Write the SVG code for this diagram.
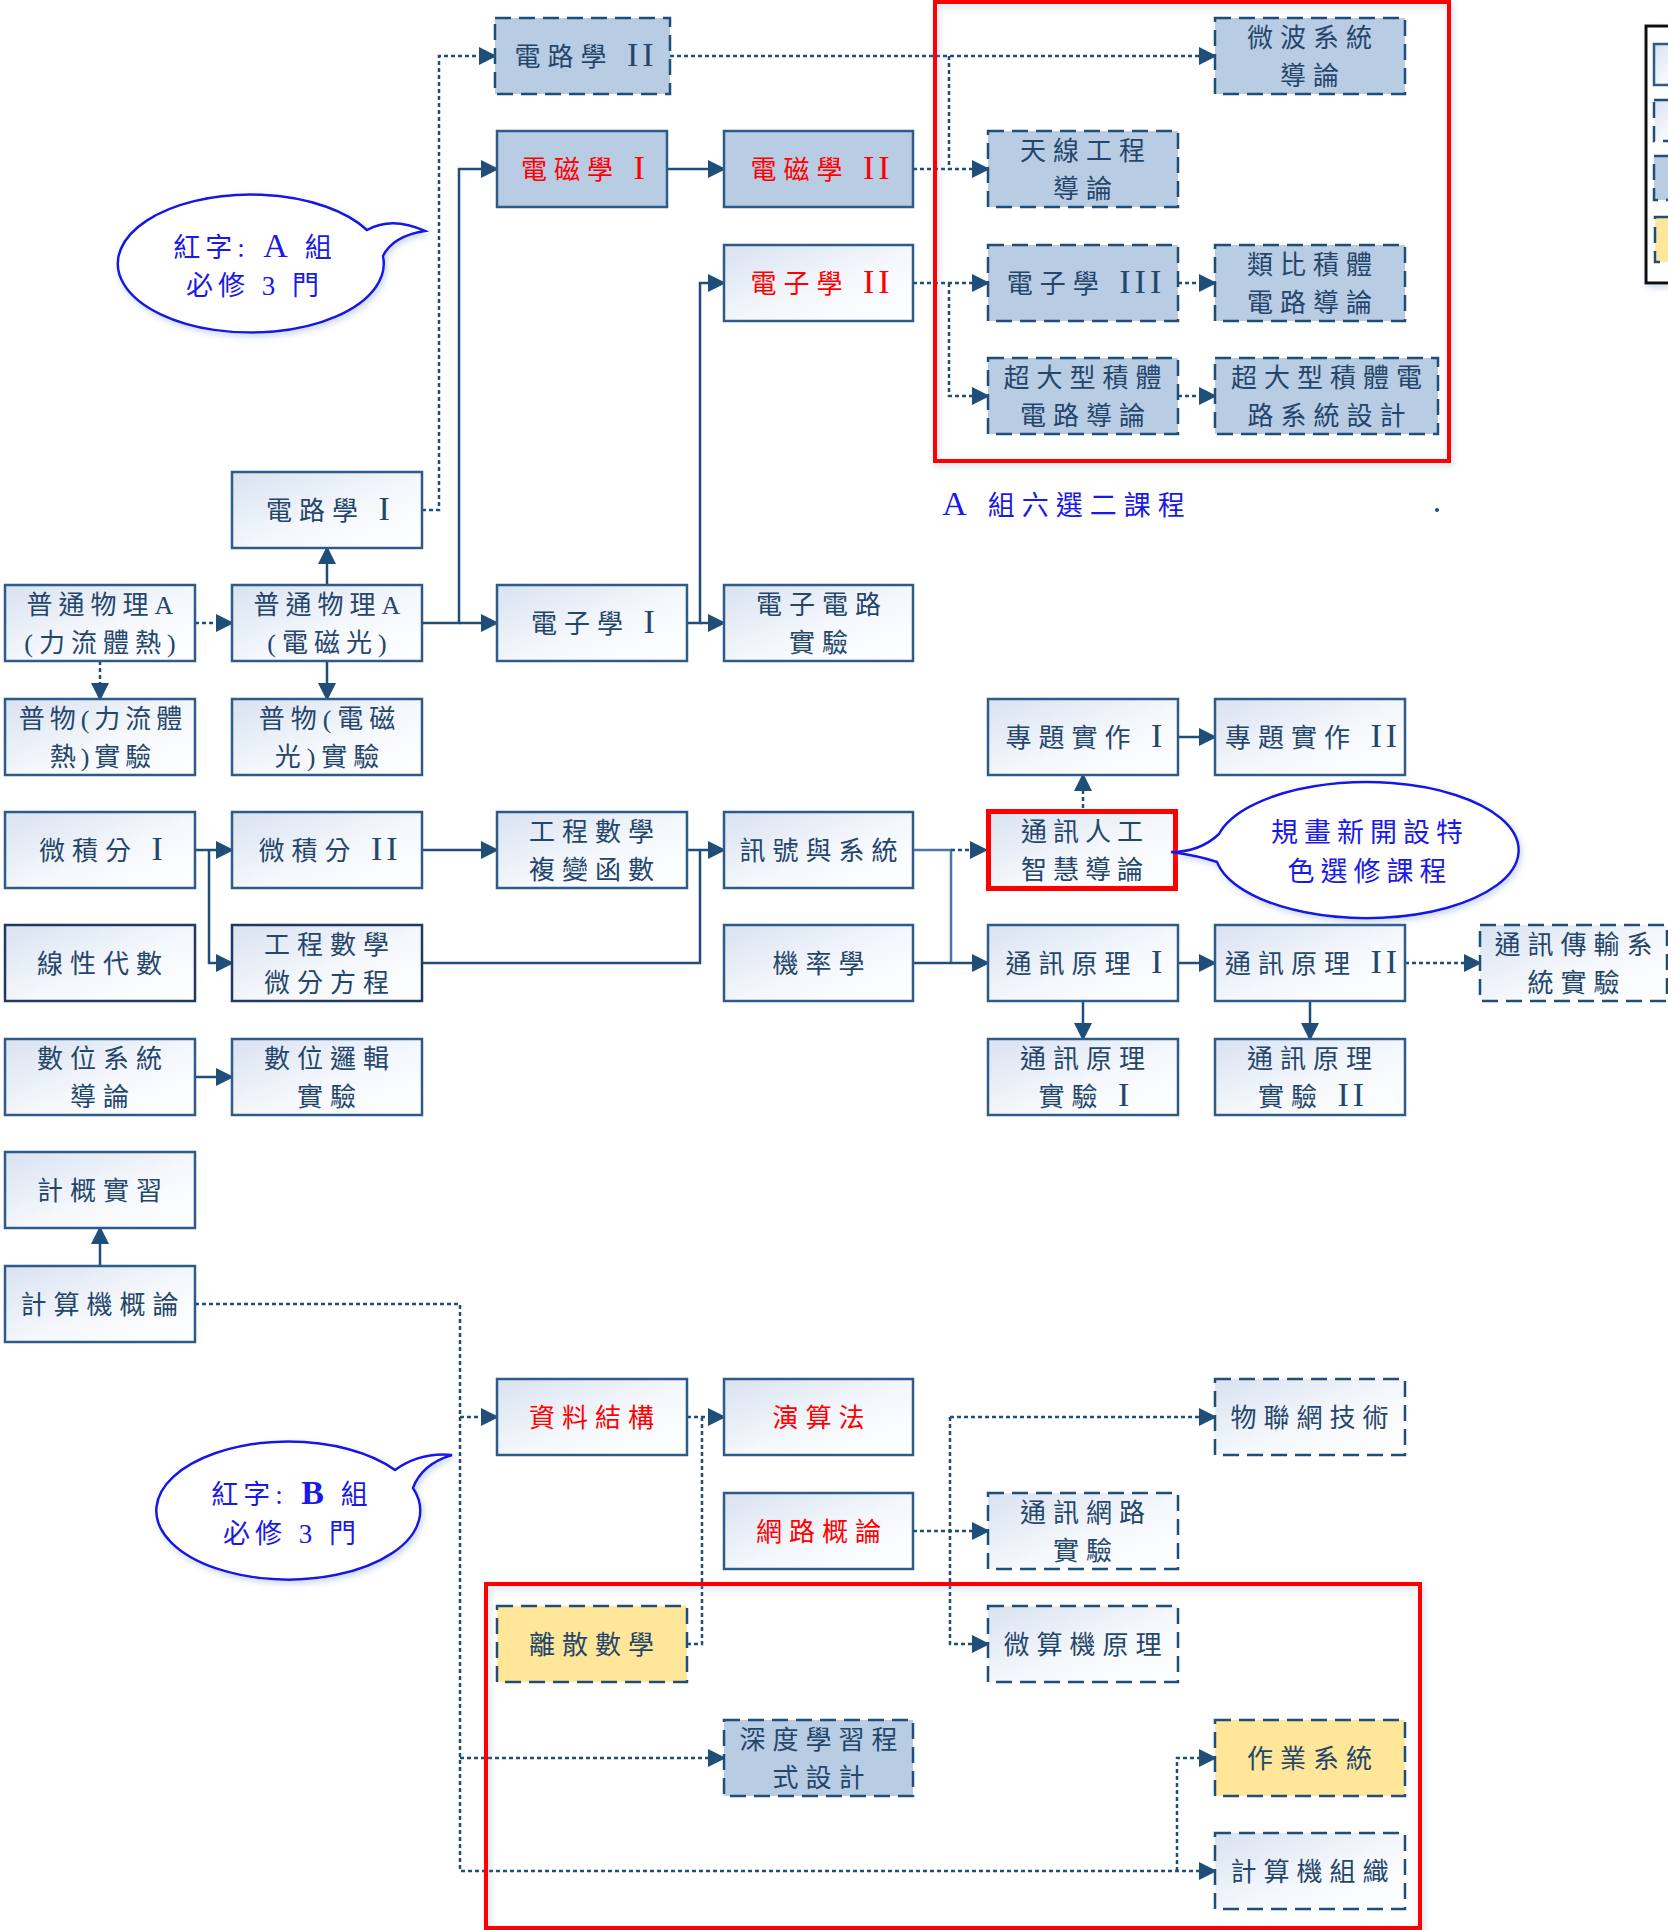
<svg xmlns="http://www.w3.org/2000/svg" width="1668" height="1930" viewBox="0 0 1668 1930">
<defs>
<linearGradient id="gl" x1="0" y1="0" x2="1" y2="1">
<stop offset="0" stop-color="#d9e2f1"/>
<stop offset="0.55" stop-color="#f5f8fc"/>
<stop offset="1" stop-color="#ffffff"/>
</linearGradient>
<marker id="ah" markerUnits="userSpaceOnUse" markerWidth="18" markerHeight="18" refX="16" refY="9" orient="auto" viewBox="0 0 18 18">
<path d="M0,0 L18,9 L0,18 z" fill="#1f4e79"/>
</marker>
<filter id="sh" x="-10%" y="-10%" width="125%" height="130%">
<feDropShadow dx="2" dy="3" stdDeviation="3" flood-color="#8fa9d6" flood-opacity="0.45"/>
</filter>
<style>
.sl{fill:url(#gl);stroke:#2e5b88;stroke-width:2.5}
.sb{fill:#b8cce4;stroke:#2e5b88;stroke-width:2.5}
.dk{fill:url(#gl);stroke:#1f3864;stroke-width:2.5}
.db{fill:#b8cce4;stroke:#1f4e79;stroke-width:2.5;stroke-dasharray:16 8}
.dl{fill:url(#gl);stroke:#1f4e79;stroke-width:2.5;stroke-dasharray:16 8}
.dy{fill:#ffe699;stroke:#1f4e79;stroke-width:2.5;stroke-dasharray:16 8}
.t{font-family:"Liberation Serif","Noto Sans CJK TC",serif;font-size:26px;fill:#25466b;letter-spacing:7px;text-anchor:middle}
.r{fill:#ff0000}
.rn{font-size:34px;letter-spacing:4px}
.bt{font-family:"Liberation Serif","Noto Sans CJK TC",serif;font-size:27px;fill:#1a1ae6;letter-spacing:5px;text-anchor:middle}
.ba{font-size:34px}
.bub{fill:#ffffff;stroke:#1414e6;stroke-width:2.5}
.s{fill:none;stroke:#1f4e79;stroke-width:2.5}
.d{fill:none;stroke:#1f4e79;stroke-width:2.5;stroke-dasharray:4 3}
.redbox{fill:none;stroke:#ff0000;stroke-width:4}
</style>
</defs>
<rect x="0" y="0" width="1668" height="1930" fill="#ffffff"/>

<g id="connectors">
<path class="s" d="M422,623 H459 V169 H497" marker-end="url(#ah)"/>
<path class="s" d="M459,623 H497" marker-end="url(#ah)"/>
<path class="s" d="M327,585 V548" marker-end="url(#ah)"/>
<path class="s" d="M327,661 V699" marker-end="url(#ah)"/>
<path class="s" d="M667,169 H724" marker-end="url(#ah)"/>
<path class="s" d="M687,623 H700 V283 H724" marker-end="url(#ah)"/>
<path class="s" d="M700,623 H724" marker-end="url(#ah)"/>
<path class="s" d="M195,850 H232" marker-end="url(#ah)"/>
<path class="s" d="M209,850 V963 H232" marker-end="url(#ah)"/>
<path class="s" d="M422,850 H497" marker-end="url(#ah)"/>
<path class="s" d="M687,850 H724" marker-end="url(#ah)"/>
<path class="s" d="M422,963 H700 V850"/>
<path class="s" d="M913,850 H951 V963" style="stroke:#4a76a8"/>
<path class="s" d="M913,963 H988" marker-end="url(#ah)"/>
<path class="s" d="M1178,737 H1215" marker-end="url(#ah)"/>
<path class="s" d="M1178,963 H1215" marker-end="url(#ah)"/>
<path class="s" d="M1083,1001 V1039" marker-end="url(#ah)"/>
<path class="s" d="M1310,1001 V1039" marker-end="url(#ah)"/>
<path class="s" d="M195,1077 H232" marker-end="url(#ah)"/>
<path class="s" d="M100,1266 V1228" marker-end="url(#ah)"/>
<path class="d" d="M422,510 H439 V56 H495" marker-end="url(#ah)"/>
<path class="d" d="M670,56 H1215" marker-end="url(#ah)"/>
<path class="d" d="M949,56 V169 H988" marker-end="url(#ah)"/>
<path class="d" d="M913,169 H949"/>
<path class="d" d="M913,283 H988" marker-end="url(#ah)"/>
<path class="d" d="M949,283 V396 H988" marker-end="url(#ah)"/>
<path class="d" d="M1178,283 H1215" marker-end="url(#ah)"/>
<path class="d" d="M1178,396 H1215" marker-end="url(#ah)"/>
<path class="d" d="M195,623 H232" marker-end="url(#ah)"/>
<path class="d" d="M100,661 V699" marker-end="url(#ah)"/>
<path class="d" d="M951,850 H986" marker-end="url(#ah)"/>
<path class="d" d="M1083,808 V775" marker-end="url(#ah)"/>
<path class="d" d="M1405,963 H1480" marker-end="url(#ah)"/>
<path class="d" d="M195,1304 H460 V1871 H1215" marker-end="url(#ah)"/>
<path class="d" d="M460,1417 H497" marker-end="url(#ah)"/>
<path class="d" d="M460,1758 H724" marker-end="url(#ah)"/>
<path class="d" d="M1177,1871 V1758 H1215" marker-end="url(#ah)"/>
<path class="d" d="M687,1417 H724" marker-end="url(#ah)"/>
<path class="d" d="M687,1644 H702 V1417"/>
<path class="d" d="M913,1531 H988" marker-end="url(#ah)"/>
<path class="d" d="M950,1417 V1644 H988" marker-end="url(#ah)"/>
<path class="d" d="M950,1417 H1215" marker-end="url(#ah)"/>
</g>

<g id="group-a-frame">
<rect class="redbox" x="935" y="2" width="514" height="459" filter="url(#sh)"/>
<text class="bt" x="1067" y="515" style="letter-spacing:7px"><tspan class="ba">A</tspan> 組六選二課程</text>
<circle cx="1437" cy="510" r="2" fill="#1f4e79"/>
</g>
<g id="group-b-frame">
<rect class="redbox" x="486" y="1584" width="934" height="344" filter="url(#sh)"/>
</g>

<g id="n-circuit2"><rect class="db" x="495" y="18" width="175" height="76"/><text class="t" x="586" y="66">電路學 <tspan class="rn">II</tspan></text></g>
<g id="n-em1"><rect class="sb" x="497" y="131" width="170" height="76"/><text class="t r" x="585" y="179">電磁學 <tspan class="rn">I</tspan></text></g>
<g id="n-em2"><rect class="sb" x="724" y="131" width="189" height="76"/><text class="t r" x="822" y="179">電磁學 <tspan class="rn">II</tspan></text></g>
<g id="n-elec2"><rect class="sl" x="724" y="245" width="189" height="76"/><text class="t r" x="822" y="293">電子學 <tspan class="rn">II</tspan></text></g>
<g id="n-microwave"><rect class="db" x="1215" y="18" width="190" height="76"/><text class="t" x="1313" y="47">微波系統</text><text class="t" x="1313" y="85">導論</text></g>
<g id="n-antenna"><rect class="db" x="988" y="131" width="190" height="76"/><text class="t" x="1086" y="160">天線工程</text><text class="t" x="1086" y="198">導論</text></g>
<g id="n-elec3"><rect class="db" x="988" y="245" width="190" height="76"/><text class="t" x="1086" y="293">電子學 <tspan class="rn">III</tspan></text></g>
<g id="n-analog"><rect class="db" x="1215" y="245" width="190" height="76"/><text class="t" x="1313" y="274">類比積體</text><text class="t" x="1313" y="312">電路導論</text></g>
<g id="n-vlsi-intro"><rect class="db" x="988" y="358" width="190" height="76"/><text class="t" x="1086" y="387">超大型積體</text><text class="t" x="1086" y="425">電路導論</text></g>
<g id="n-vlsi-design"><rect class="db" x="1215" y="358" width="223" height="76"/><text class="t" x="1330" y="387">超大型積體電</text><text class="t" x="1330" y="425">路系統設計</text></g>
<g id="n-circuit1"><rect class="sl" x="232" y="472" width="190" height="76"/><text class="t" x="330" y="520">電路學 <tspan class="rn">I</tspan></text></g>
<g id="n-phys-a1"><rect class="sl" x="5" y="585" width="190" height="76"/><text class="t" x="103" y="614" style="letter-spacing:6px">普通物理A</text><text class="t" x="103" y="652" style="letter-spacing:6px">(力流體熱)</text></g>
<g id="n-phys-a2"><rect class="sl" x="232" y="585" width="190" height="76"/><text class="t" x="330" y="614" style="letter-spacing:6px">普通物理A</text><text class="t" x="330" y="652" style="letter-spacing:6px">(電磁光)</text></g>
<g id="n-elec1"><rect class="sl" x="497" y="585" width="190" height="76"/><text class="t" x="595" y="633">電子學 <tspan class="rn">I</tspan></text></g>
<g id="n-elec-lab"><rect class="sl" x="724" y="585" width="189" height="76"/><text class="t" x="822" y="614">電子電路</text><text class="t" x="822" y="652">實驗</text></g>
<g id="n-phys-lab1"><rect class="sl" x="5" y="699" width="190" height="76"/><text class="t" x="103" y="728" style="letter-spacing:5px">普物(力流體</text><text class="t" x="103" y="766" style="letter-spacing:5px">熱)實驗</text></g>
<g id="n-phys-lab2"><rect class="sl" x="232" y="699" width="190" height="76"/><text class="t" x="330" y="728" style="letter-spacing:6px">普物(電磁</text><text class="t" x="330" y="766" style="letter-spacing:6px">光)實驗</text></g>
<g id="n-project1"><rect class="sl" x="988" y="699" width="190" height="76"/><text class="t" x="1086" y="747">專題實作 <tspan class="rn">I</tspan></text></g>
<g id="n-project2"><rect class="sl" x="1215" y="699" width="190" height="76"/><text class="t" x="1313" y="747">專題實作 <tspan class="rn">II</tspan></text></g>
<g id="n-calc1"><rect class="sl" x="5" y="812" width="190" height="76"/><text class="t" x="103" y="860">微積分 <tspan class="rn">I</tspan></text></g>
<g id="n-calc2"><rect class="sl" x="232" y="812" width="190" height="76"/><text class="t" x="330" y="860">微積分 <tspan class="rn">II</tspan></text></g>
<g id="n-complex"><rect class="sl" x="497" y="812" width="190" height="76"/><text class="t" x="595" y="841">工程數學</text><text class="t" x="595" y="879">複變函數</text></g>
<g id="n-signals"><rect class="sl" x="724" y="812" width="189" height="76"/><text class="t" x="822" y="860">訊號與系統</text></g>
<g id="n-comm-ai"><rect class="sl" x="988.5" y="811.5" width="187" height="77" style="stroke:#ff0000;stroke-width:5"/><text class="t" x="1085" y="841" style="letter-spacing:6px">通訊人工</text><text class="t" x="1085" y="879" style="letter-spacing:6px">智慧導論</text></g>
<g id="n-linalg"><rect class="dk" x="5" y="925" width="190" height="76"/><text class="t" x="103" y="973">線性代數</text></g>
<g id="n-ode"><rect class="dk" x="232" y="925" width="190" height="76"/><text class="t" x="330" y="954">工程數學</text><text class="t" x="330" y="992">微分方程</text></g>
<g id="n-prob"><rect class="sl" x="724" y="925" width="189" height="76"/><text class="t" x="822" y="973">機率學</text></g>
<g id="n-comm1"><rect class="sl" x="988" y="925" width="190" height="76"/><text class="t" x="1086" y="973">通訊原理 <tspan class="rn">I</tspan></text></g>
<g id="n-comm2"><rect class="sl" x="1215" y="925" width="190" height="76"/><text class="t" x="1313" y="973">通訊原理 <tspan class="rn">II</tspan></text></g>
<g id="n-comm-tx-lab"><rect class="dl" x="1480" y="925" width="187" height="76"/><text class="t" x="1577" y="954">通訊傳輸系</text><text class="t" x="1577" y="992">統實驗</text></g>
<g id="n-digital"><rect class="sl" x="5" y="1039" width="190" height="76"/><text class="t" x="103" y="1068">數位系統</text><text class="t" x="103" y="1106">導論</text></g>
<g id="n-logic-lab"><rect class="sl" x="232" y="1039" width="190" height="76"/><text class="t" x="330" y="1068">數位邏輯</text><text class="t" x="330" y="1106">實驗</text></g>
<g id="n-comm-lab1"><rect class="sl" x="988" y="1039" width="190" height="76"/><text class="t" x="1086" y="1068">通訊原理</text><text class="t" x="1086" y="1106">實驗 <tspan class="rn">I</tspan></text></g>
<g id="n-comm-lab2"><rect class="sl" x="1215" y="1039" width="190" height="76"/><text class="t" x="1313" y="1068">通訊原理</text><text class="t" x="1313" y="1106">實驗 <tspan class="rn">II</tspan></text></g>
<g id="n-cs-lab"><rect class="sl" x="5" y="1152" width="190" height="76"/><text class="t" x="103" y="1200">計概實習</text></g>
<g id="n-cs-intro"><rect class="sl" x="5" y="1266" width="190" height="76"/><text class="t" x="103" y="1314">計算機概論</text></g>
<g id="n-ds"><rect class="sl" x="497" y="1379" width="190" height="76"/><text class="t r" x="595" y="1427">資料結構</text></g>
<g id="n-algo"><rect class="sl" x="724" y="1379" width="189" height="76"/><text class="t r" x="822" y="1427">演算法</text></g>
<g id="n-iot"><rect class="dl" x="1215" y="1379" width="190" height="76"/><text class="t" x="1313" y="1427">物聯網技術</text></g>
<g id="n-network"><rect class="sl" x="724" y="1493" width="189" height="76"/><text class="t r" x="822" y="1541">網路概論</text></g>
<g id="n-net-lab"><rect class="dl" x="988" y="1493" width="190" height="76"/><text class="t" x="1086" y="1522">通訊網路</text><text class="t" x="1086" y="1560">實驗</text></g>
<g id="n-discrete"><rect class="dy" x="497" y="1606" width="190" height="76"/><text class="t" x="595" y="1654">離散數學</text></g>
<g id="n-micro"><rect class="dl" x="988" y="1606" width="190" height="76"/><text class="t" x="1086" y="1654">微算機原理</text></g>
<g id="n-dl"><rect class="db" x="724" y="1720" width="189" height="76"/><text class="t" x="822" y="1749">深度學習程</text><text class="t" x="822" y="1787">式設計</text></g>
<g id="n-os"><rect class="dy" x="1215" y="1720" width="190" height="76"/><text class="t" x="1313" y="1768">作業系統</text></g>
<g id="n-co"><rect class="dl" x="1215" y="1833" width="190" height="76"/><text class="t" x="1313" y="1881">計算機組織</text></g>

<g id="legend">
<rect x="1646" y="26" width="40" height="257" fill="#ffffff" stroke="#111111" stroke-width="3" filter="url(#sh)"/>
<rect class="sl" x="1654" y="44" width="40" height="41"/>
<rect class="dl" x="1654" y="100" width="40" height="41"/>
<rect class="db" x="1654" y="156" width="40" height="44"/>
<rect class="dy" x="1655" y="217" width="40" height="45"/>
</g>

<g id="bubble-a">
<path class="bub" filter="url(#sh)" d="M367,230 Q392,216 425,231 Q393,236 383,256 A133,69 0 1 1 367,230 Z"/>
<text class="bt" x="255" y="257">紅字:<tspan class="ba"> A</tspan> 組</text>
<text class="bt" x="255" y="295">必修 3 門</text>
</g>
<g id="bubble-b">
<path class="bub" filter="url(#sh)" d="M395,1470 Q420,1452 452,1455 Q422,1464 413,1488 A132,69 0 1 1 395,1470 Z"/>
<text class="bt" x="292" y="1504">紅字:<tspan class="ba" style="font-weight:bold"> B</tspan> 組</text>
<text class="bt" x="292" y="1543">必修 3 門</text>
</g>
<g id="bubble-c">
<path class="bub" filter="url(#sh)" d="M1219,834 Q1200,852 1171,852 Q1200,856 1217,862 A152,68 0 1 0 1219,834 Z"/>
<text class="bt" x="1370" y="842" style="letter-spacing:6px">規畫新開設特</text>
<text class="bt" x="1370" y="881" style="letter-spacing:6px">色選修課程</text>
</g>
</svg>
